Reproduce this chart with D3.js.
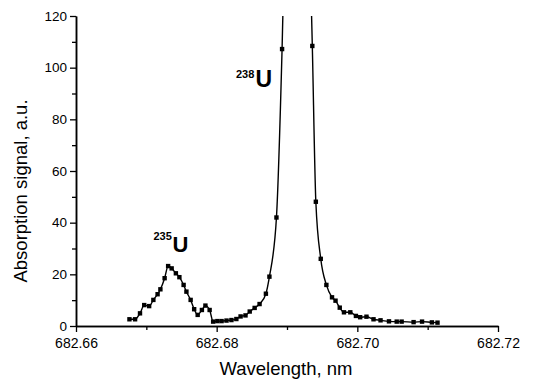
<!DOCTYPE html>
<html><head><meta charset="utf-8">
<script src="https://cdn.jsdelivr.net/npm/d3@7"></script>
<style>
html,body{margin:0;padding:0;background:#fff;}
text{font-family:"Liberation Sans",Arial,sans-serif;fill:#000;}
</style></head>
<body><svg id="chart" width="536" height="382"></svg>
<script>
// Wavelength (nm) and absorption signal (a.u.)
const wavelength = [682.6676,682.6684,682.6691,682.6697,682.6704,682.6710,682.6716,682.6720,682.6726,682.6731,
  682.6736,682.6742,682.6747,682.6753,682.6757,682.6763,682.6768,682.6773,682.6779,682.6784,
  682.6790,682.6795,682.6801,682.6807,682.6814,682.6821,682.6828,682.6834,682.6841,682.6847,
  682.6854,682.6861,682.6870,682.6875,682.6885,682.6893,682.6900,682.6907,682.6914,682.6921,
  682.6928,682.6936,682.6941,682.6948,682.6956,682.6964,682.6969,682.6975,682.6981,682.6990,
  682.6998,682.7004,682.7013,682.7023,682.7033,682.7045,682.7056,682.7063,682.7080,682.7092,
  682.7106,682.7114];
const signal = [2.6,2.6,4.9,8.1,7.7,10.1,12.3,14.2,18.5,23.2,
  22.3,20.4,18.9,15.9,13.3,10.1,6.5,4.3,6.2,7.9,
  6.2,1.7,1.9,1.9,2.1,2.3,2.7,3.7,4.1,5.6,
  7.0,8.5,12.5,19.1,42.0,107.2,190,300,360,310,
  200,108.4,48.1,26.0,15.9,11.1,9.8,7.1,5.3,5.3,
  3.9,3.4,3.6,2.6,2.2,1.8,1.7,1.7,1.5,1.7,
  1.4,1.3];
const xTicks = [682.66, 682.68, 682.70, 682.72];
const xMinor = [682.67, 682.69, 682.71];
const yTicks = [0, 20, 40, 60, 80, 100, 120];
const yMinor = [10, 30, 50, 70, 90, 110];
const isotopes = ["238", "235"];

const data = wavelength.map((w,i)=>({x:w, y:signal[i]}));
const svg = d3.select("#chart");
const L=76, R=498, T=16, B=326;
const x = d3.scaleLinear().domain([682.66,682.72]).range([L,R]);
const y = d3.scaleLinear().domain([0,120]).range([B,T]);

svg.append("defs").append("clipPath").attr("id","clip")
  .append("rect").attr("x",L).attr("y",T).attr("width",R-L).attr("height",B-T);

const g = svg.append("g").attr("clip-path","url(#clip)");
g.append("path").datum(data)
  .attr("fill","none").attr("stroke","#000").attr("stroke-width",1.4)
  .attr("d", d3.line().x(d=>x(d.x)).y(d=>y(d.y)).curve(d3.curveMonotoneX));
g.selectAll("rect.m").data(data.filter(d=>d.y<=120)).join("rect")
  .attr("class","m")
  .attr("x",d=>x(d.x)-2.2).attr("y",d=>y(d.y)-2.2)
  .attr("width",4.4).attr("height",4.4).attr("fill","#000");

// axes
const xAxis = svg.append("g").attr("transform",`translate(0,${B})`)
  .call(d3.axisBottom(x).tickValues(xTicks).tickFormat(d3.format(".2f")).tickSize(6).tickSizeOuter(0));
const xAxisMinor = svg.append("g").attr("transform",`translate(0,${B})`)
  .call(d3.axisBottom(x).tickValues(xMinor).tickFormat("").tickSize(4).tickSizeOuter(0));
const yAxis = svg.append("g").attr("transform",`translate(${L},0)`)
  .call(d3.axisLeft(y).tickValues(yTicks).tickSize(6).tickSizeOuter(0));
const yAxisMinor = svg.append("g").attr("transform",`translate(${L},0)`)
  .call(d3.axisLeft(y).tickValues(yMinor).tickFormat("").tickSize(4).tickSizeOuter(0));
[xAxis,xAxisMinor,yAxis,yAxisMinor].forEach(a=>{
  a.selectAll("path.domain").attr("stroke","#000").attr("stroke-width",1.5);
  a.selectAll(".tick line").attr("stroke","#000").attr("stroke-width",1.3);
});
xAxis.selectAll("text").attr("font-size",14).attr("font-family","Liberation Sans, Arial, sans-serif").attr("fill","#000").attr("dy","0.95em");
yAxis.selectAll("text").attr("font-size",13.5).attr("font-family","Liberation Sans, Arial, sans-serif").attr("fill","#000").attr("x",-9);

svg.append("text").attr("x",(L+R)/2-1).attr("y",375).attr("text-anchor","middle")
  .attr("font-size",18.5).text("Wavelength, nm");
svg.append("text").attr("transform","translate(27,191) rotate(-90)").attr("text-anchor","middle")
  .attr("font-size",18.5).text("Absorption signal, a.u.");

// isotope labels
const iso = svg.append("g");
iso.append("text").attr("x",236).attr("y",77.5).attr("font-size",11).attr("font-weight","bold").text(isotopes[0]);
iso.append("text").attr("x",255.5).attr("y",87).attr("font-size",23).attr("font-weight","bold").text("U");
iso.append("text").attr("x",153.5).attr("y",240).attr("font-size",11).attr("font-weight","bold").text(isotopes[1]);
iso.append("text").attr("x",172.5).attr("y",252).attr("font-size",22).attr("font-weight","bold").text("U");
</script></body></html>
